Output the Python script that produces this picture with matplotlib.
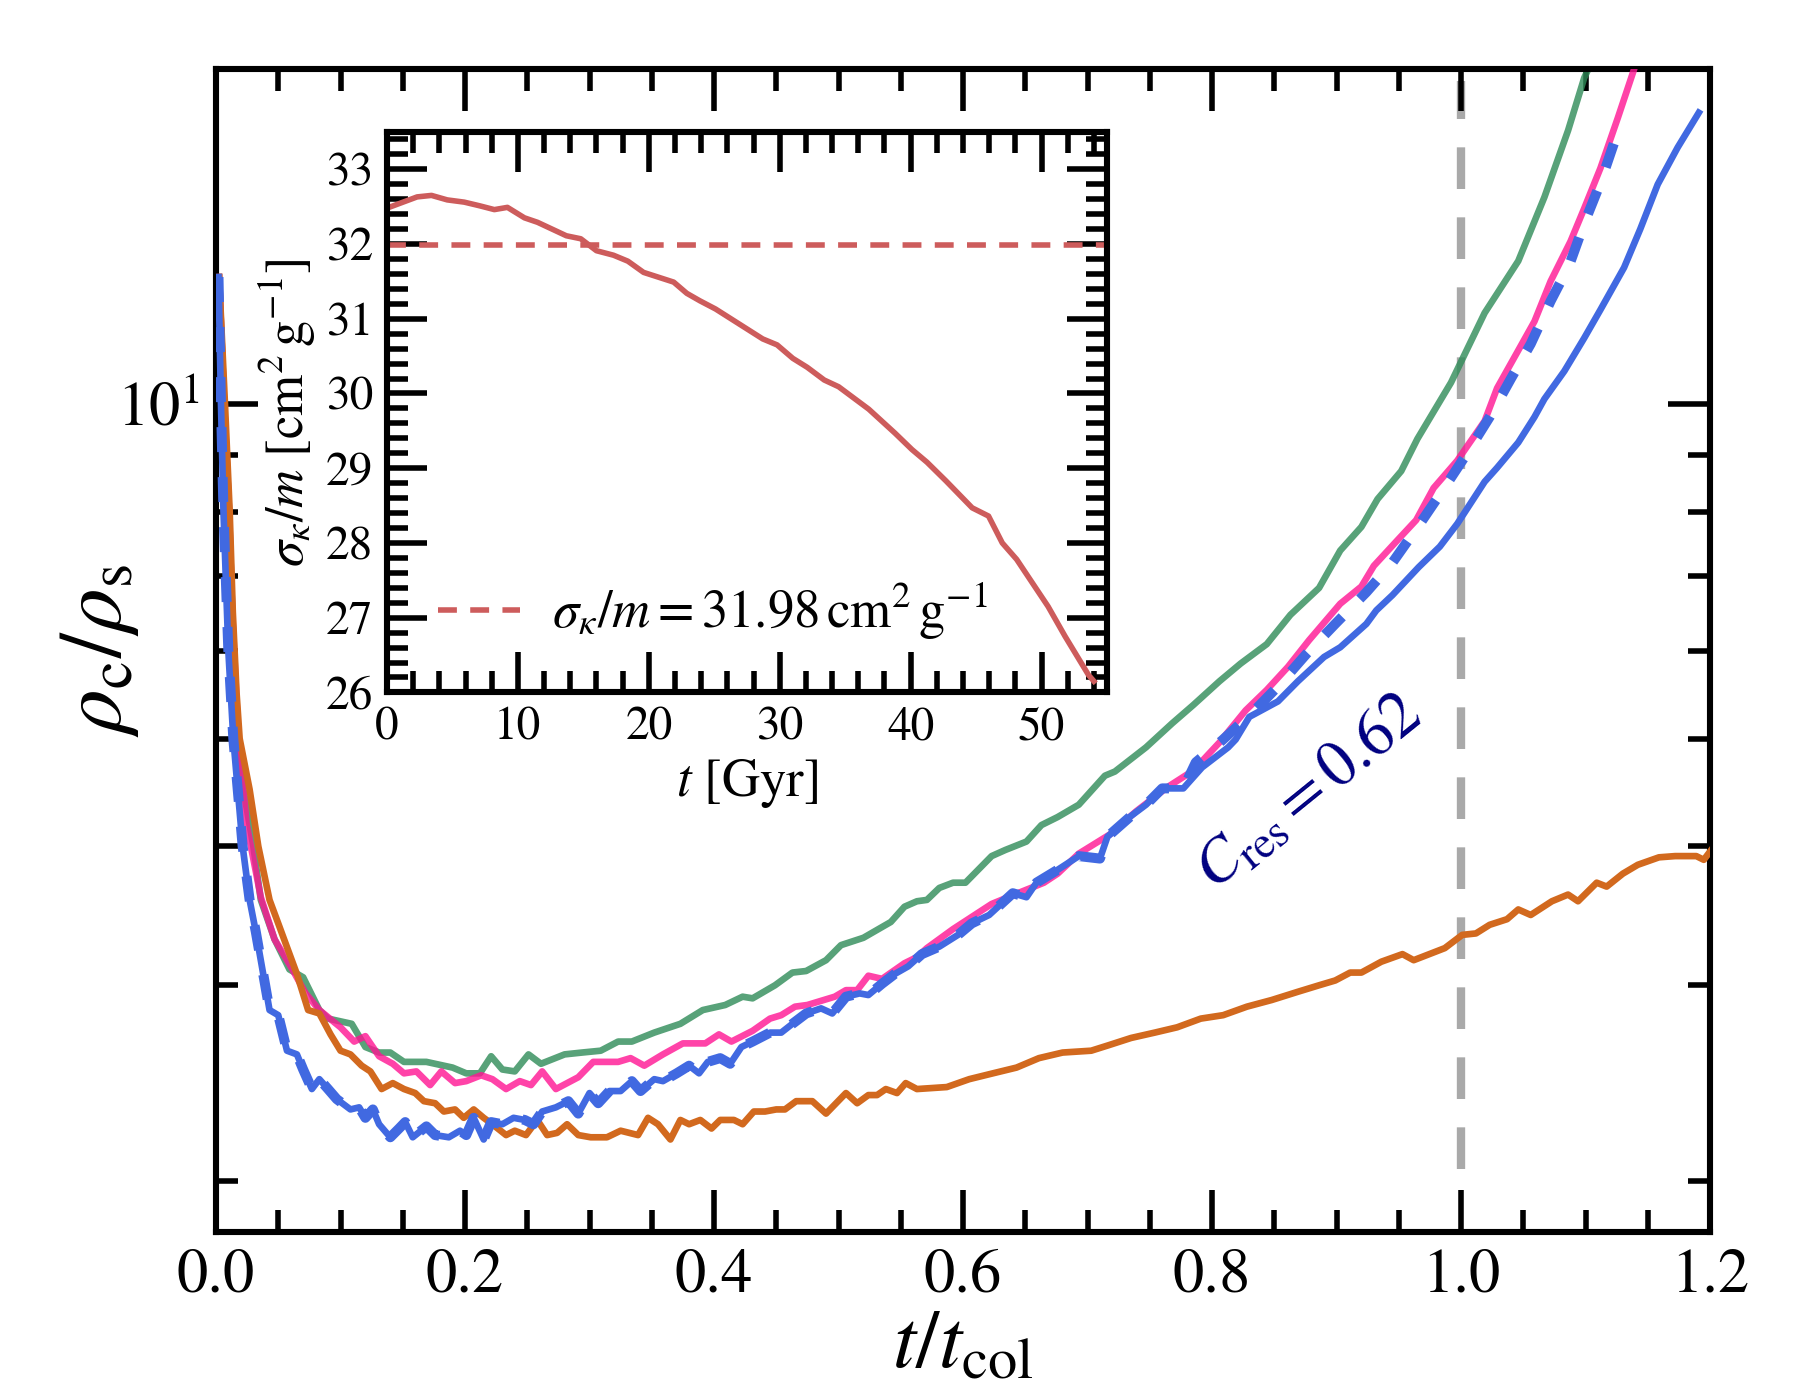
import matplotlib
matplotlib.use('Agg')
import matplotlib.pyplot as plt
from matplotlib.ticker import MultipleLocator, NullFormatter, FormatStrFormatter

plt.rcParams['font.family'] = 'STIXGeneral'
plt.rcParams['mathtext.fontset'] = 'stix'

# ---------------- data ----------------
green_t = [0.0025, 0.0065, 0.0105, 0.013, 0.017, 0.022, 0.030, 0.036, 0.047, 0.059,
           0.070, 0.083, 0.090, 0.109, 0.120, 0.131, 0.140, 0.151, 0.169, 0.190,
           0.201, 0.212, 0.221, 0.230, 0.240, 0.251, 0.261, 0.280, 0.294, 0.309,
           0.323, 0.334, 0.352, 0.373, 0.391, 0.409, 0.423, 0.431, 0.449, 0.463,
           0.474, 0.490, 0.502, 0.520, 0.542, 0.553, 0.563, 0.571, 0.581, 0.592,
           0.602, 0.623, 0.634, 0.651, 0.663, 0.676, 0.693, 0.714, 0.722, 0.747,
           0.768, 0.785, 0.806, 0.823, 0.844, 0.863, 0.886, 0.903, 0.920, 0.933,
           0.952, 0.965, 0.992, 1.019, 1.046, 1.067, 1.086, 1.099, 1.105]
green_v = [13.0, 10.0, 8.0, 6.5, 5.0, 4.5, 4.0, 3.58, 3.30, 3.10,
           3.05, 2.85, 2.80, 2.77, 2.64, 2.61, 2.61, 2.56, 2.56, 2.53,
           2.50, 2.50, 2.59, 2.52, 2.51, 2.60, 2.55, 2.60, 2.61, 2.62,
           2.67, 2.67, 2.72, 2.77, 2.85, 2.88, 2.93, 2.92, 3.00, 3.08,
           3.09, 3.16, 3.26, 3.31, 3.42, 3.53, 3.57, 3.58, 3.67, 3.71,
           3.71, 3.92, 3.97, 4.04, 4.18, 4.25, 4.36, 4.63, 4.67, 4.91,
           5.16, 5.36, 5.63, 5.84, 6.08, 6.46, 6.83, 7.38, 7.75, 8.21,
           8.70, 9.30, 10.45, 12.07, 13.44, 15.34, 17.61, 19.64, 20.3]

pink_t = [0.0025, 0.0065, 0.0105, 0.013, 0.018, 0.0247, 0.036, 0.047, 0.060, 0.072,
          0.083, 0.100, 0.111, 0.120, 0.131, 0.142, 0.151, 0.161, 0.172, 0.181,
          0.192, 0.201, 0.213, 0.222, 0.233, 0.244, 0.253, 0.262, 0.273, 0.291,
          0.303, 0.323, 0.333, 0.344, 0.359, 0.375, 0.393, 0.404, 0.414, 0.431,
          0.445, 0.454, 0.465, 0.475, 0.497, 0.506, 0.515, 0.524, 0.535, 0.553,
          0.563, 0.571, 0.592, 0.623, 0.644, 0.665, 0.676, 0.693, 0.718, 0.739,
          0.764, 0.785, 0.806, 0.827, 0.844, 0.861, 0.878, 0.903, 0.920, 0.930,
          0.949, 0.964, 0.978, 0.997, 1.019, 1.029, 1.046, 1.059, 1.072, 1.088,
          1.099, 1.112, 1.126, 1.141]
pink_v = [13.0, 10.0, 8.0, 6.5, 5.0, 4.18, 3.60, 3.30, 3.12, 2.95,
          2.85, 2.75, 2.67, 2.70, 2.59, 2.55, 2.50, 2.51, 2.44, 2.51,
          2.45, 2.46, 2.49, 2.47, 2.42, 2.46, 2.44, 2.51, 2.42, 2.48,
          2.56, 2.56, 2.58, 2.54, 2.60, 2.66, 2.66, 2.71, 2.67, 2.73,
          2.80, 2.82, 2.87, 2.88, 2.93, 2.97, 2.97, 3.06, 3.04, 3.14,
          3.18, 3.24, 3.37, 3.55, 3.63, 3.71, 3.78, 3.94, 4.10, 4.30,
          4.52, 4.68, 4.96, 5.30, 5.53, 5.80, 6.13, 6.61, 6.85, 7.15,
          7.54, 7.86, 8.40, 8.89, 9.65, 10.33, 11.17, 11.86, 12.89, 14.00,
          14.99, 16.29, 18.08, 20.3]

orange_t = [0.0025, 0.0072, 0.011, 0.0135, 0.0165, 0.019, 0.027, 0.034, 0.043, 0.050,
            0.065, 0.074, 0.083, 0.092, 0.100, 0.108, 0.117, 0.124, 0.133, 0.142,
            0.151, 0.160, 0.167, 0.176, 0.183, 0.192, 0.199, 0.207, 0.215, 0.222,
            0.233, 0.240, 0.249, 0.258, 0.266, 0.274, 0.282, 0.291, 0.301, 0.314,
            0.325, 0.339, 0.347, 0.355, 0.365, 0.373, 0.380, 0.389, 0.398, 0.405,
            0.416, 0.423, 0.432, 0.441, 0.450, 0.457, 0.466, 0.479, 0.490, 0.506,
            0.515, 0.524, 0.531, 0.538, 0.547, 0.554, 0.563, 0.587, 0.605, 0.624,
            0.643, 0.661, 0.680, 0.703, 0.717, 0.735, 0.754, 0.772, 0.791, 0.809,
            0.828, 0.848, 0.869, 0.886, 0.899, 0.911, 0.920, 0.936, 0.953, 0.962,
            0.987, 1.001, 1.012, 1.023, 1.037, 1.046, 1.056, 1.073, 1.086, 1.094,
            1.109, 1.117, 1.130, 1.142, 1.159, 1.172, 1.189, 1.195, 1.201]
orange_v = [13.0, 10.0, 8.0, 6.5, 5.5, 5.0, 4.5, 4.0, 3.58, 3.41,
            3.07, 2.85, 2.83, 2.71, 2.62, 2.60, 2.54, 2.51, 2.42, 2.45,
            2.42, 2.40, 2.36, 2.35, 2.31, 2.32, 2.28, 2.32, 2.28, 2.25,
            2.20, 2.22, 2.20, 2.27, 2.20, 2.21, 2.25, 2.20, 2.19, 2.19,
            2.22, 2.20, 2.28, 2.25, 2.18, 2.27, 2.25, 2.27, 2.23, 2.27,
            2.27, 2.25, 2.31, 2.31, 2.32, 2.32, 2.36, 2.36, 2.30, 2.40,
            2.35, 2.39, 2.39, 2.42, 2.40, 2.45, 2.42, 2.43, 2.47, 2.50,
            2.53, 2.58, 2.61, 2.62, 2.65, 2.69, 2.72, 2.75, 2.80, 2.82,
            2.87, 2.91, 2.96, 3.00, 3.03, 3.08, 3.08, 3.15, 3.20, 3.16,
            3.24, 3.33, 3.34, 3.40, 3.44, 3.51, 3.47, 3.57, 3.62, 3.57,
            3.71, 3.68, 3.78, 3.85, 3.91, 3.92, 3.92, 3.89, 3.97]

blue_t = [0.002, 0.004, 0.006, 0.0099, 0.0139, 0.0214, 0.027, 0.032, 0.043, 0.050,
          0.057, 0.065, 0.070, 0.077, 0.083, 0.090, 0.097, 0.108, 0.115, 0.120,
          0.126, 0.131, 0.140, 0.147, 0.152, 0.158, 0.169, 0.176, 0.187, 0.196,
          0.201, 0.207, 0.215, 0.221, 0.230, 0.239, 0.248, 0.255, 0.262, 0.273,
          0.283, 0.291, 0.300, 0.307, 0.316, 0.325, 0.334, 0.341, 0.352, 0.359,
          0.370, 0.380, 0.388, 0.395, 0.405, 0.413, 0.422, 0.431, 0.445, 0.454,
          0.463, 0.474, 0.486, 0.495, 0.506, 0.517, 0.524, 0.535, 0.545, 0.556,
          0.567, 0.581, 0.596, 0.607, 0.621, 0.640, 0.651, 0.659, 0.676, 0.693,
          0.710, 0.716, 0.735, 0.747, 0.760, 0.777, 0.792, 0.813, 0.819, 0.830,
          0.853, 0.869, 0.890, 0.903, 0.924, 0.932, 0.945, 0.966, 0.983, 0.997,
          1.019, 1.029, 1.046, 1.059, 1.067, 1.083, 1.099, 1.112, 1.131, 1.144,
          1.158, 1.174, 1.191]
blue_v = [13.0, 10.0, 8.0, 6.0, 5.0, 4.0, 3.58, 3.35, 2.85, 2.82,
          2.62, 2.60, 2.52, 2.42, 2.47, 2.42, 2.37, 2.32, 2.33, 2.28,
          2.32, 2.25, 2.19, 2.23, 2.26, 2.19, 2.24, 2.20, 2.19, 2.22,
          2.20, 2.28, 2.18, 2.26, 2.25, 2.28, 2.27, 2.25, 2.31, 2.33,
          2.36, 2.30, 2.40, 2.35, 2.41, 2.41, 2.46, 2.41, 2.47, 2.46,
          2.50, 2.54, 2.50, 2.56, 2.58, 2.55, 2.64, 2.67, 2.72, 2.72,
          2.77, 2.83, 2.86, 2.83, 2.93, 2.95, 2.94, 3.01, 3.07, 3.12,
          3.20, 3.25, 3.33, 3.41, 3.47, 3.63, 3.60, 3.71, 3.81, 3.92,
          3.90, 4.08, 4.26, 4.36, 4.51, 4.51, 4.71, 4.91, 4.99, 5.23,
          5.40, 5.63, 5.92, 6.04, 6.34, 6.52, 6.73, 7.13, 7.44, 7.80,
          8.51, 8.76, 9.23, 9.73, 10.10, 10.70, 11.46, 12.15, 13.26, 14.36,
          15.75, 17.00, 18.27]

# dashed blue run: coincides with the solid blue run up to t~0.78, then follows the pink run
n_common = 86
bdash_t = blue_t[:n_common] + [0.787, 0.808, 0.832, 0.853, 0.876, 0.899, 0.924, 0.945, 0.968, 0.9865,
                               1.003, 1.023, 1.040, 1.056, 1.072, 1.087, 1.099, 1.112, 1.124]
bdash_v = blue_v[:n_common] + [4.76, 4.98, 5.27, 5.57, 5.96, 6.34, 6.77, 7.20, 7.83, 8.40,
                               8.96, 9.73, 10.53, 11.32, 12.37, 13.33, 14.53, 15.80, 17.30]

# inset: sigma/m vs time
ins_t = [0.0, 2.3, 3.4, 4.6, 5.9, 7.1, 8.2, 9.2, 10.5, 11.5,
         13.7, 14.8, 16.0, 17.3, 18.4, 19.6, 21.9, 22.9, 23.9, 25.1,
         28.7, 29.8, 31.0, 32.1, 33.4, 34.5, 36.8, 38.8, 40.1, 41.25,
         42.7, 44.7, 45.95, 47.0, 48.1, 50.5, 51.8, 53.6, 54.0]
ins_v = [32.48, 32.63, 32.65, 32.59, 32.56, 32.51, 32.46, 32.49, 32.35, 32.29,
         32.11, 32.07, 31.91, 31.85, 31.77, 31.62, 31.49, 31.34, 31.24, 31.13,
         30.73, 30.65, 30.47, 30.35, 30.18, 30.09, 29.79, 29.47, 29.25, 29.08,
         28.83, 28.47, 28.36, 28.00, 27.78, 27.15, 26.75, 26.23, 26.15]
sigma_const = 31.98
t_col_mark = 1.0
c_res = 0.62

# ---------------- figure ----------------
fig = plt.figure(figsize=(9, 7), dpi=200)
ax = fig.add_axes([0.12, 0.12, 0.83, 0.8307])

ax.vlines(t_col_mark, 2.05, 19.5, colors='darkgray', lw=3.0,
          linestyles=(0, (5.0, 3.4)), zorder=1)
ax.plot(green_t, green_v, color='seagreen', alpha=0.8, lw=2.4, zorder=2)
ax.plot(pink_t, pink_v, color='deeppink', alpha=0.8, lw=2.4, zorder=3)
ax.plot(orange_t, orange_v, color='chocolate', lw=2.4, zorder=4)
ax.plot(blue_t, blue_v, color='royalblue', lw=2.4, zorder=5)
ax.plot(bdash_t, bdash_v, color='royalblue', lw=3.6, dashes=(2.5, 2.5), zorder=6)

ax.text(0.878, 4.46, r'$C_{\rm res} = %.2f$' % c_res, color='navy', fontsize=23,
        rotation=39, ha='center', va='center')

ax.set_yscale('log')
ax.set_xlim(0, 1.2)
ax.set_ylim(1.8, 20)
ax.xaxis.set_major_locator(MultipleLocator(0.2))
ax.xaxis.set_minor_locator(MultipleLocator(0.05))
ax.xaxis.set_major_formatter(FormatStrFormatter('%.1f'))
ax.yaxis.set_minor_formatter(NullFormatter())
ax.tick_params(which='both', direction='in', top=True, right=True, width=2.0)
ax.tick_params(which='major', length=15, labelsize=22.5, pad=6)
ax.tick_params(which='minor', length=8)
for s in ax.spines.values():
    s.set_linewidth(2.2)
ax.set_xlabel(r'$t/t_{\rm col}$', fontsize=30, labelpad=2)
ax.set_ylabel(r'$\rho_{\rm c}/\rho_{\rm s}$', fontsize=32)
ax.yaxis.set_label_coords(-0.05, 0.5)

# ---------------- inset ----------------
ax2 = fig.add_axes([0.215, 0.5054, 0.4, 0.4004])
ax2.plot(ins_t, ins_v, color='indianred', lw=2.0)
ax2.axhline(sigma_const, color='indianred', lw=2.0, dashes=(3.4, 2.4),
            label=r'$\sigma_\kappa/m = %.2f\,{\rm cm^2\,g^{-1}}$' % sigma_const)
ax2.set_xlim(0, 55)
ax2.set_ylim(26, 33.5)
ax2.xaxis.set_major_locator(MultipleLocator(10))
ax2.xaxis.set_minor_locator(MultipleLocator(2))
ax2.yaxis.set_major_locator(MultipleLocator(1))
ax2.yaxis.set_minor_locator(MultipleLocator(0.2))
ax2.tick_params(which='both', direction='in', top=True, right=True, width=2.0)
ax2.tick_params(which='major', length=14.5, labelsize=17, pad=5)
ax2.tick_params(which='minor', length=7.5)
for s in ax2.spines.values():
    s.set_linewidth(2.2)
ax2.set_xlabel(r'$t$ [Gyr]', fontsize=19, labelpad=3)
ax2.set_ylabel(r'$\sigma_\kappa/m\ [{\rm cm^2\,g^{-1}}]$', fontsize=19, labelpad=3)
ax2.legend(loc='lower left', bbox_to_anchor=(0.071, 0.09), frameon=False,
           fontsize=19, handlelength=1.55, handletextpad=0.6,
           borderpad=0, borderaxespad=0)

fig.savefig('out.png', dpi=200)
